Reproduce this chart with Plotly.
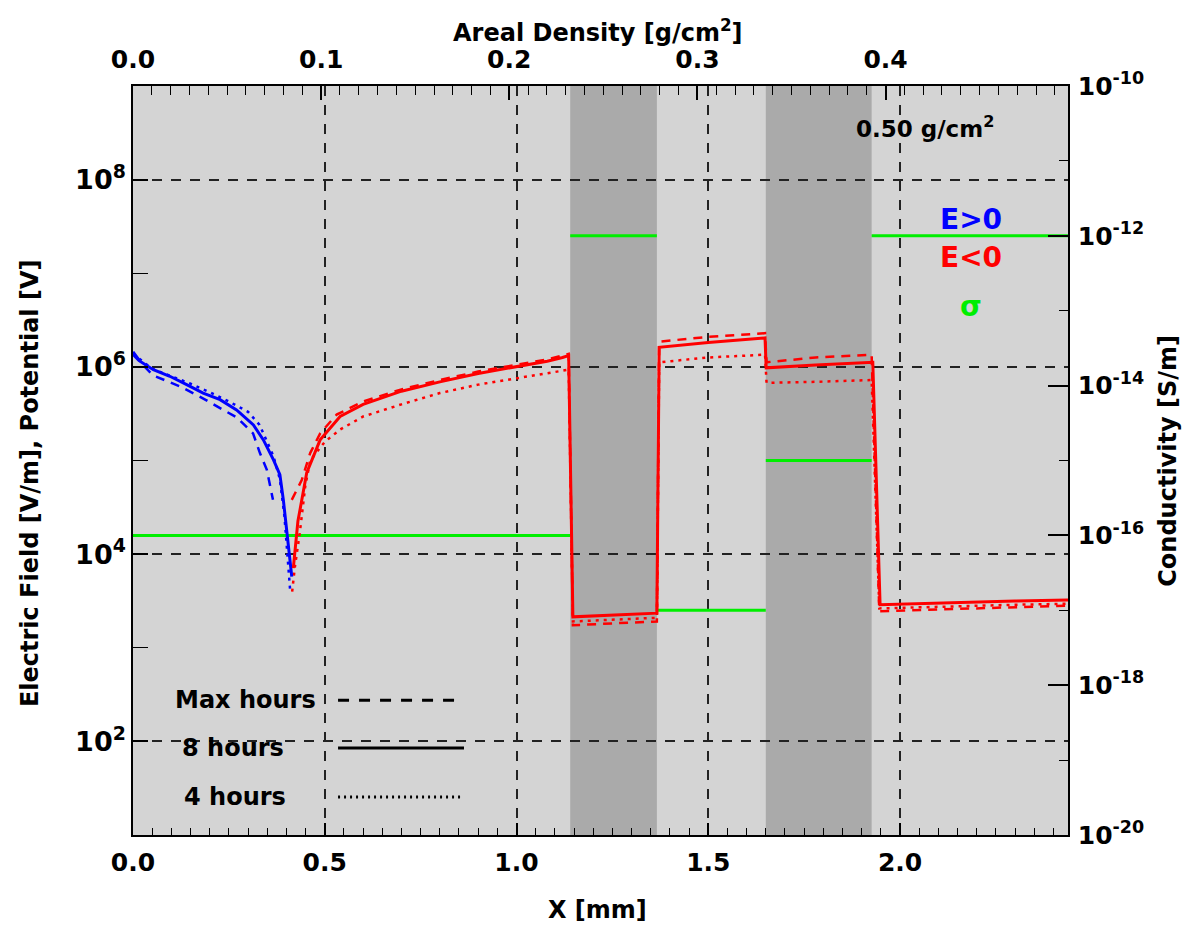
import plotly.graph_objects as go

FONT = "DejaVu Sans"

# ---------------- data ----------------
# layer structure (X in mm) and conductivity per layer (S/m)
layer_edges = [0.0, 1.14, 1.366, 1.65, 1.926, 2.438]
layer_sigma = [1e-16, 1e-12, 1e-17, 1e-15, 1e-12]
dark_layers = [1, 3]
areal_density_total = 0.497  # g/cm^2 at right edge

# Max hours (dashed): E>0 part and |E| for E<0 part
x_max_pos = [0.0, 0.052, 0.123, 0.175, 0.227, 0.271, 0.313, 0.331, 0.349, 0.365]
E_max_pos = [1.35e6, 8.13e5, 6.17e5, 4.79e5, 3.63e5, 2.88e5, 1.95e5, 1.20e5, 7.94e4, 3.80e4]
x_max_neg = [0.414, 0.44, 0.462, 0.488, 0.531, 0.6, 0.7, 0.8, 0.9, 1.0, 1.08, 1.136,
             1.147, 1.25, 1.366, 1.372, 1.5, 1.648, 1.652, 1.78, 1.926,
             1.946, 2.1, 2.3, 2.438]
E_max_neg = [3.80e4, 6.17e4, 1.20e5, 1.95e5, 3.09e5, 4.27e5, 5.75e5, 7.24e5, 8.91e5, 1.05e6, 1.20e6, 1.38e6,
             1.74e3, 1.82e3, 1.91e3, 1.86e6, 2.09e6, 2.29e6, 1.12e6, 1.26e6, 1.35e6,
             2.45e3, 2.57e3, 2.69e3, 2.82e3]

# 8 hours (solid)
x_8h_pos = [0.0, 0.018, 0.053, 0.096, 0.140, 0.183, 0.227, 0.270, 0.314, 0.340, 0.366, 0.383, 0.392, 0.401, 0.414]
E_8h_pos = [1.45e6, 1.15e6, 9.33e5, 7.94e5, 6.46e5, 5.25e5, 4.47e5, 3.47e5, 2.40e5, 1.66e5, 1.02e5, 7.08e4, 3.80e4, 1.70e4, 5.75e3]
x_8h_neg = [0.418, 0.43, 0.453, 0.488, 0.54, 0.6, 0.7, 0.8, 0.9, 1.0, 1.08, 1.12, 1.136,
            1.147, 1.25, 1.366, 1.372, 1.5, 1.648, 1.651, 1.78, 1.929,
            1.948, 2.1, 2.3, 2.438]
E_8h_neg = [7.08e3, 2.24e4, 7.41e4, 1.66e5, 2.95e5, 3.98e5, 5.50e5, 6.92e5, 8.51e5, 1.00e6, 1.15e6, 1.26e6, 1.32e6,
            2.14e3, 2.24e3, 2.34e3, 1.62e6, 1.82e6, 2.04e6, 9.77e5, 1.05e6, 1.12e6,
            2.88e3, 3.02e3, 3.16e3, 3.24e3]

# 4 hours (dotted)
x_4h_pos = [0.0, 0.05, 0.1, 0.15, 0.2, 0.25, 0.3, 0.33, 0.366, 0.383, 0.395, 0.405, 0.41]
E_4h_pos = [1.38e6, 9.55e5, 7.94e5, 6.61e5, 5.37e5, 4.27e5, 3.31e5, 2.40e5, 1.12e5, 6.31e4, 2.51e4, 7.94e3, 3.98e3]
x_4h_neg = [0.415, 0.422, 0.435, 0.449, 0.462, 0.5, 0.54, 0.6, 0.7, 0.8, 0.9, 1.0, 1.08, 1.136,
            1.147, 1.25, 1.366, 1.372, 1.5, 1.648, 1.652, 1.78, 1.926,
            1.946, 2.1, 2.3, 2.438]
E_4h_neg = [3.98e3, 7.24e3, 1.70e4, 5.25e4, 1.00e5, 1.58e5, 2.14e5, 2.95e5, 3.98e5, 5.25e5, 6.46e5, 7.59e5, 8.51e5, 9.33e5,
            1.91e3, 2.00e3, 2.09e3, 1.12e6, 1.26e6, 1.35e6, 6.76e5, 6.92e5, 7.24e5,
            2.63e3, 2.75e3, 2.88e3, 2.95e3]

# ticks
x_ticks = [0.0, 0.5, 1.0, 1.5, 2.0]
x_ticktext = ["0.0", "0.5", "1.0", "1.5", "2.0"]
top_ticks = [0.0, 0.1, 0.2, 0.3, 0.4]
top_ticktext = ["0.0", "0.1", "0.2", "0.3", "0.4"]
E_ticks = [1e2, 1e4, 1e6, 1e8]
E_ticktext = ["10<sup>2</sup>", "10<sup>4</sup>", "10<sup>6</sup>", "10<sup>8</sup>"]
E_minor = [1e1, 1e3, 1e5, 1e7, 1e9]
S_ticks = [1e-20, 1e-18, 1e-16, 1e-14, 1e-12, 1e-10]
S_ticktext = ["10<sup>-20</sup>", "10<sup>-18</sup>", "10<sup>-16</sup>",
              "10<sup>-14</sup>", "10<sup>-12</sup>", "10<sup>-10</sup>"]
S_minor = [1e-19, 1e-17, 1e-15, 1e-13, 1e-11]

# ---------------- styles ----------------
BLUE = "#0000ff"
RED = "#ff0000"
GREEN = "#00ee00"
BG = "#d4d4d4"
DARK = "#aaaaaa"
GRID = "#222222"
DASH_CURVE = "9px,7px"
DOT_CURVE = "3px,5px"

fig = go.Figure()

# conductivity (main y axis, right side)
sx, sy = [], []
for i, s in enumerate(layer_sigma):
    sx += [layer_edges[i], layer_edges[i + 1], None]
    sy += [s, s, None]
fig.add_trace(go.Scatter(x=sx, y=sy, mode="lines", line=dict(color=GREEN, width=3),
                         xaxis="x", yaxis="y", showlegend=False, hoverinfo="skip"))

# invisible trace to activate the top axis
fig.add_trace(go.Scatter(x=[0, areal_density_total], y=[1e-15, 1e-15], mode="lines",
                         line=dict(width=0), opacity=0, xaxis="x2", yaxis="y",
                         showlegend=False, hoverinfo="skip"))

series = [
    (x_max_pos, E_max_pos, x_max_neg, E_max_neg, DASH_CURVE, 2.5),
    (x_4h_pos, E_4h_pos, x_4h_neg, E_4h_neg, DOT_CURVE, 2.5),
    (x_8h_pos, E_8h_pos, x_8h_neg, E_8h_neg, "solid", 3),
]
for xp, ep, xn, en, dash, w in series:
    fig.add_trace(go.Scatter(x=xp, y=ep, mode="lines", line=dict(color=BLUE, width=w, dash=dash),
                             xaxis="x", yaxis="y2", showlegend=False))
    fig.add_trace(go.Scatter(x=xn, y=en, mode="lines", line=dict(color=RED, width=w, dash=dash),
                             xaxis="x", yaxis="y2", showlegend=False))

# dark layers
shapes = []
for i in dark_layers:
    shapes.append(dict(type="rect", xref="x", yref="paper", x0=layer_edges[i], x1=layer_edges[i + 1],
                       y0=0, y1=1, fillcolor=DARK, line=dict(width=0), layer="below"))

# line-style legend (bottom-left)
legend_items = [("Max hours", "11px,10px", 0.180, 0.0428),
                ("8 hours", "solid", 0.116, 0.0503),
                ("4 hours", "2px,4px", 0.0507, 0.0524)]
annotations = []
for label, dash, yy, xt in legend_items:
    shapes.append(dict(type="line", xref="paper", yref="paper", x0=0.2193, x1=0.354, y0=yy, y1=yy,
                       line=dict(color="black", width=3, dash=dash)))
    annotations.append(dict(text=label, xref="paper", yref="paper", x=xt, y=yy, xanchor="left",
                            yanchor="middle", showarrow=False,
                            font=dict(family=FONT, size=24, color="black", weight="bold")))

title_font = dict(family=FONT, size=24, color="black", weight="bold")
annotations += [
    dict(text="Areal Density [g/cm<sup>2</sup>]", xref="paper", yref="paper", x=0.497, y=1.0734,
         xanchor="center", yanchor="middle", showarrow=False, font=title_font),
    dict(text="X [mm]", xref="paper", yref="paper", x=0.497, y=-0.1, xanchor="center",
         yanchor="middle", showarrow=False, font=title_font),
    dict(text="Electric Field [V/m], Potential [V]", xref="paper", yref="paper", x=-0.110, y=0.47,
         xanchor="center", yanchor="middle", showarrow=False, textangle=-90, font=title_font),
    dict(text="Conductivity [S/m]", xref="paper", yref="paper", x=1.1075, y=0.499,
         xanchor="center", yanchor="middle", showarrow=False, textangle=-90, font=title_font),
    dict(text="0.50 g/cm<sup>2</sup>", xref="paper", yref="paper", x=0.847, y=0.945,
         xanchor="center", yanchor="middle", showarrow=False,
         font=dict(family=FONT, size=23, color="black", weight="bold")),
    dict(text="E>0", xref="paper", yref="paper", x=0.896, y=(835 - 219) / 749,
         xanchor="center", yanchor="middle", showarrow=False,
         font=dict(family=FONT, size=28, color=BLUE, weight="bold")),
    dict(text="E<0", xref="paper", yref="paper", x=0.896, y=(835 - 257) / 749,
         xanchor="center", yanchor="middle", showarrow=False,
         font=dict(family=FONT, size=28, color=RED, weight="bold")),
    dict(text="σ", xref="paper", yref="paper", x=0.896, y=(835 - 306) / 749,
         xanchor="center", yanchor="middle", showarrow=False,
         font=dict(family=FONT, size=28, color=GREEN, weight="bold")),
]

tick_font = dict(family=FONT, size=25, color="black", weight="bold")

fig.update_layout(
    width=1201, height=930, autosize=False,
    margin=dict(l=133, r=133, t=86, b=95),
    paper_bgcolor="white", plot_bgcolor=BG,
    showlegend=False,
    shapes=shapes, annotations=annotations,
    xaxis=dict(range=[layer_edges[0], layer_edges[-1]], tickmode="array", tickvals=x_ticks,
               ticktext=x_ticktext, ticks="inside", ticklen=12, tickwidth=1.5, tickcolor="black",
               minor=dict(tickmode="linear", tick0=0, dtick=0.05, ticks="inside", ticklen=7,
                          tickwidth=1, tickcolor="black", showgrid=False),
               showgrid=True, gridcolor=GRID, gridwidth=1.5, griddash="10px,9px",
               showline=True, linecolor="black", linewidth=1.5, zeroline=False,
               tickfont=tick_font, anchor="y", side="bottom", ticklabelstandoff=4),
    xaxis2=dict(range=[0, areal_density_total], overlaying="x", side="top", anchor="y",
                tickmode="array", tickvals=top_ticks, ticktext=top_ticktext,
                ticks="inside", ticklen=14, tickwidth=1.5, tickcolor="black",
                minor=dict(tickmode="linear", tick0=0, dtick=0.01, ticks="inside", ticklen=9,
                           tickwidth=1, tickcolor="black", showgrid=False),
                showgrid=False, showline=True, linecolor="black", linewidth=1.5, zeroline=False,
                tickfont=tick_font, ticklabelstandoff=6),
    yaxis=dict(type="log", range=[-20, -10], side="right", anchor="x",
               tickmode="array", tickvals=S_ticks, ticktext=S_ticktext,
               ticks="inside", ticklen=20, tickwidth=1.5, tickcolor="black",
               minor=dict(tickmode="array", tickvals=S_minor, ticks="inside", ticklen=9,
                          tickwidth=1, tickcolor="black", showgrid=False),
               showgrid=False, showline=True, linecolor="black", linewidth=1.5, zeroline=False,
               tickfont=tick_font, ticklabelstandoff=3),
    yaxis2=dict(type="log", range=[1, 9], side="left", overlaying="y", anchor="x",
                tickmode="array", tickvals=E_ticks, ticktext=E_ticktext,
                ticks="inside", ticklen=15, tickwidth=1.5, tickcolor="black",
                minor=dict(tickmode="array", tickvals=E_minor, ticks="inside", ticklen=15,
                           tickwidth=1, tickcolor="black", showgrid=False),
                showgrid=True, gridcolor=GRID, gridwidth=1.5, griddash="10px,9px",
                showline=True, linecolor="black", linewidth=1.5, zeroline=False,
                tickfont=dict(family=FONT, size=27, color="black", weight="bold")),
)

fig.write_html("out.html", config={"displayModeBar": False})
